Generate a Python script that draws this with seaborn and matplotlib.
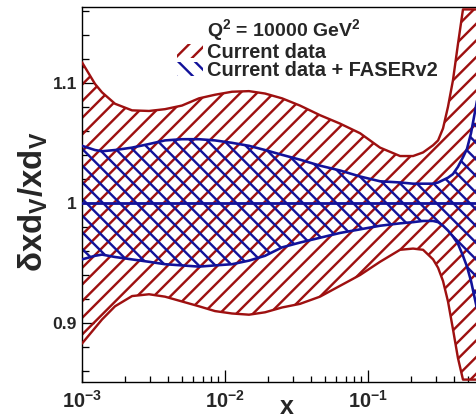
"""Relative uncertainty band of xd_V at Q^2 = 10000 GeV^2, with and without FASERv2."""

import matplotlib.pyplot as plt
import numpy as np
import seaborn as sns
from matplotlib.patches import Patch
from matplotlib.ticker import FixedLocator, MultipleLocator, LogLocator

# values
x = [0.001, 0.001233, 0.00138, 0.001702, 0.002239, 0.002943, 0.003805, 0.005,
     0.006576, 0.008511, 0.01119, 0.01472, 0.01905, 0.02505, 0.03342, 0.04613,
     0.06368, 0.0879, 0.1213, 0.1675, 0.2065, 0.2426, 0.2851, 0.309, 0.3345,
     0.3624, 0.3925, 0.4253, 0.4613, 0.4921, 0.525, 0.5781]
cur_hi = [1.117, 1.099, 1.092, 1.0825, 1.077, 1.0765, 1.078, 1.081,
          1.087, 1.090, 1.0925, 1.093, 1.091, 1.087, 1.081, 1.073,
          1.066, 1.058, 1.046, 1.039, 1.039, 1.042, 1.048, 1.052, 1.062,
          1.080, 1.102, 1.132, 1.161, 1.161, 1.161, 1.161]
cur_lo = [0.883, 0.896, 0.903, 0.914, 0.9225, 0.924, 0.922, 0.918,
          0.914, 0.910, 0.908, 0.907, 0.909, 0.913, 0.916, 0.922,
          0.931, 0.940, 0.951, 0.961, 0.962, 0.961, 0.953, 0.946, 0.935,
          0.918, 0.895, 0.871, 0.853, 0.853, 0.853, 0.853]
fas_hi = [1.0475, 1.044, 1.043, 1.044, 1.046, 1.049, 1.052, 1.053,
          1.053, 1.052, 1.050, 1.0475, 1.044, 1.040, 1.036, 1.031,
          1.027, 1.022, 1.018, 1.017, 1.016, 1.016, 1.016, 1.017, 1.019,
          1.021, 1.024, 1.030, 1.038, 1.045, 1.058, 1.085]
fas_lo = [0.953, 0.956, 0.957, 0.955, 0.953, 0.951, 0.949, 0.948,
          0.947, 0.948, 0.949, 0.952, 0.956, 0.963, 0.967, 0.971,
          0.975, 0.978, 0.981, 0.983, 0.984, 0.985, 0.985, 0.984, 0.981,
          0.977, 0.972, 0.966, 0.956, 0.947, 0.935, 0.912]
central = [1.0] * len(x)

labels = ["Current data", "Current data + FASERv2"]
header = r"Q$^{2}$ = 10000 GeV$^{2}$"
yticks = [0.9, 1.0, 1.1]
yticklabels = ["0.9", "1", "1.1"]

RED = "#9e1010"
BLUE = "#12129a"
DPI = 100
HATCH_RED = "//"
HATCH_BLUE = "\\\\"


def pt(px):
    # font sizes are read in pixels off the reference
    return px * 72 / DPI


sns.set_theme(style="ticks")
plt.rcParams.update({
    "font.family": ["Liberation Sans", "DejaVu Sans"],
    "font.weight": "bold",
    "mathtext.fontset": "custom",
    "mathtext.rm": "Liberation Sans:bold",
    "mathtext.bf": "Liberation Sans:bold",
    "mathtext.it": "Liberation Sans:bold",
    "mathtext.default": "rm",
    "hatch.linewidth": pt(2.4),
    "axes.edgecolor": "black",
    "axes.linewidth": pt(1.4),
})

fig = plt.figure(figsize=(477 / DPI, 418 / DPI), dpi=DPI)
ax = fig.add_axes([82 / 477, 1 - 382 / 418, 1 - 82 / 477, (382 - 7) / 418])

ax.fill_between(x, cur_lo, cur_hi, facecolor="none", edgecolor=RED,
                hatch=HATCH_RED, linewidth=0, zorder=1)
ax.fill_between(x, fas_lo, fas_hi, facecolor="none", edgecolor=BLUE,
                hatch=HATCH_BLUE, linewidth=0, zorder=2)

for ys in (cur_hi, cur_lo):
    sns.lineplot(x=x, y=ys, color=RED, linewidth=pt(2.4), ax=ax, zorder=3)
for ys in (fas_hi, fas_lo):
    sns.lineplot(x=x, y=ys, color=BLUE, linewidth=pt(2.6), ax=ax, zorder=4)
sns.lineplot(x=x, y=central, color=BLUE, linewidth=pt(2.8), ax=ax, zorder=5)

ax.set_xscale("log")
ax.set_xlim(0.001, 0.5781)
ax.set_ylim(0.851, 1.163)

ax.yaxis.set_major_locator(FixedLocator(yticks))
ax.set_yticklabels(yticklabels)
ax.yaxis.set_minor_locator(MultipleLocator(0.02))
ax.xaxis.set_major_locator(LogLocator(base=10))
ax.xaxis.set_minor_locator(LogLocator(base=10, subs=np.arange(2, 10)))

ax.tick_params(axis="both", which="major", direction="in", length=pt(12),
               width=pt(1.3), color="black")
ax.tick_params(axis="both", which="minor", direction="in", length=pt(6.5),
               width=pt(1.3), color="black")
ax.tick_params(axis="y", which="major", labelsize=pt(17.5), pad=pt(5))
ax.tick_params(axis="x", which="major", labelsize=pt(20), pad=pt(8))
for lab in ax.get_yticklabels():
    lab.set_fontweight("bold")

ax.spines["right"].set_visible(False)

ax.set_xlabel("x", fontsize=pt(25), fontweight="bold")
ax.xaxis.set_label_coords((287 - 82) / 395, (382 - 414) / 375)
ax.xaxis.label.set_va("baseline")
ax.set_ylabel(r"$\delta$xd$_{V}$/xd$_{V}$", fontsize=pt(33), fontweight="bold")
ax.yaxis.set_label_coords((33 - 82) / 395, (382 - 202) / 375)
ax.yaxis.label.set_va("center")

fig.text(207 / 477, 1 - 36 / 418, header, fontsize=pt(19.5), fontweight="bold",
         ha="left", va="baseline")
handles = [
    Patch(facecolor="none", edgecolor=RED, hatch=HATCH_RED, linewidth=0),
    Patch(facecolor="none", edgecolor=BLUE, hatch=HATCH_BLUE, linewidth=0),
]
leg = ax.legend(handles, labels, loc="upper left",
                bbox_to_anchor=(177 / 477, 1 - 43 / 418),
                bbox_transform=fig.transFigure, frameon=False,
                prop={"size": pt(20), "weight": "bold"},
                handlelength=1.3, handleheight=0.75, handletextpad=0.2,
                labelspacing=-0.05, borderpad=0, borderaxespad=0)

fig.savefig("out.png", dpi=DPI)
plt.close(fig)
